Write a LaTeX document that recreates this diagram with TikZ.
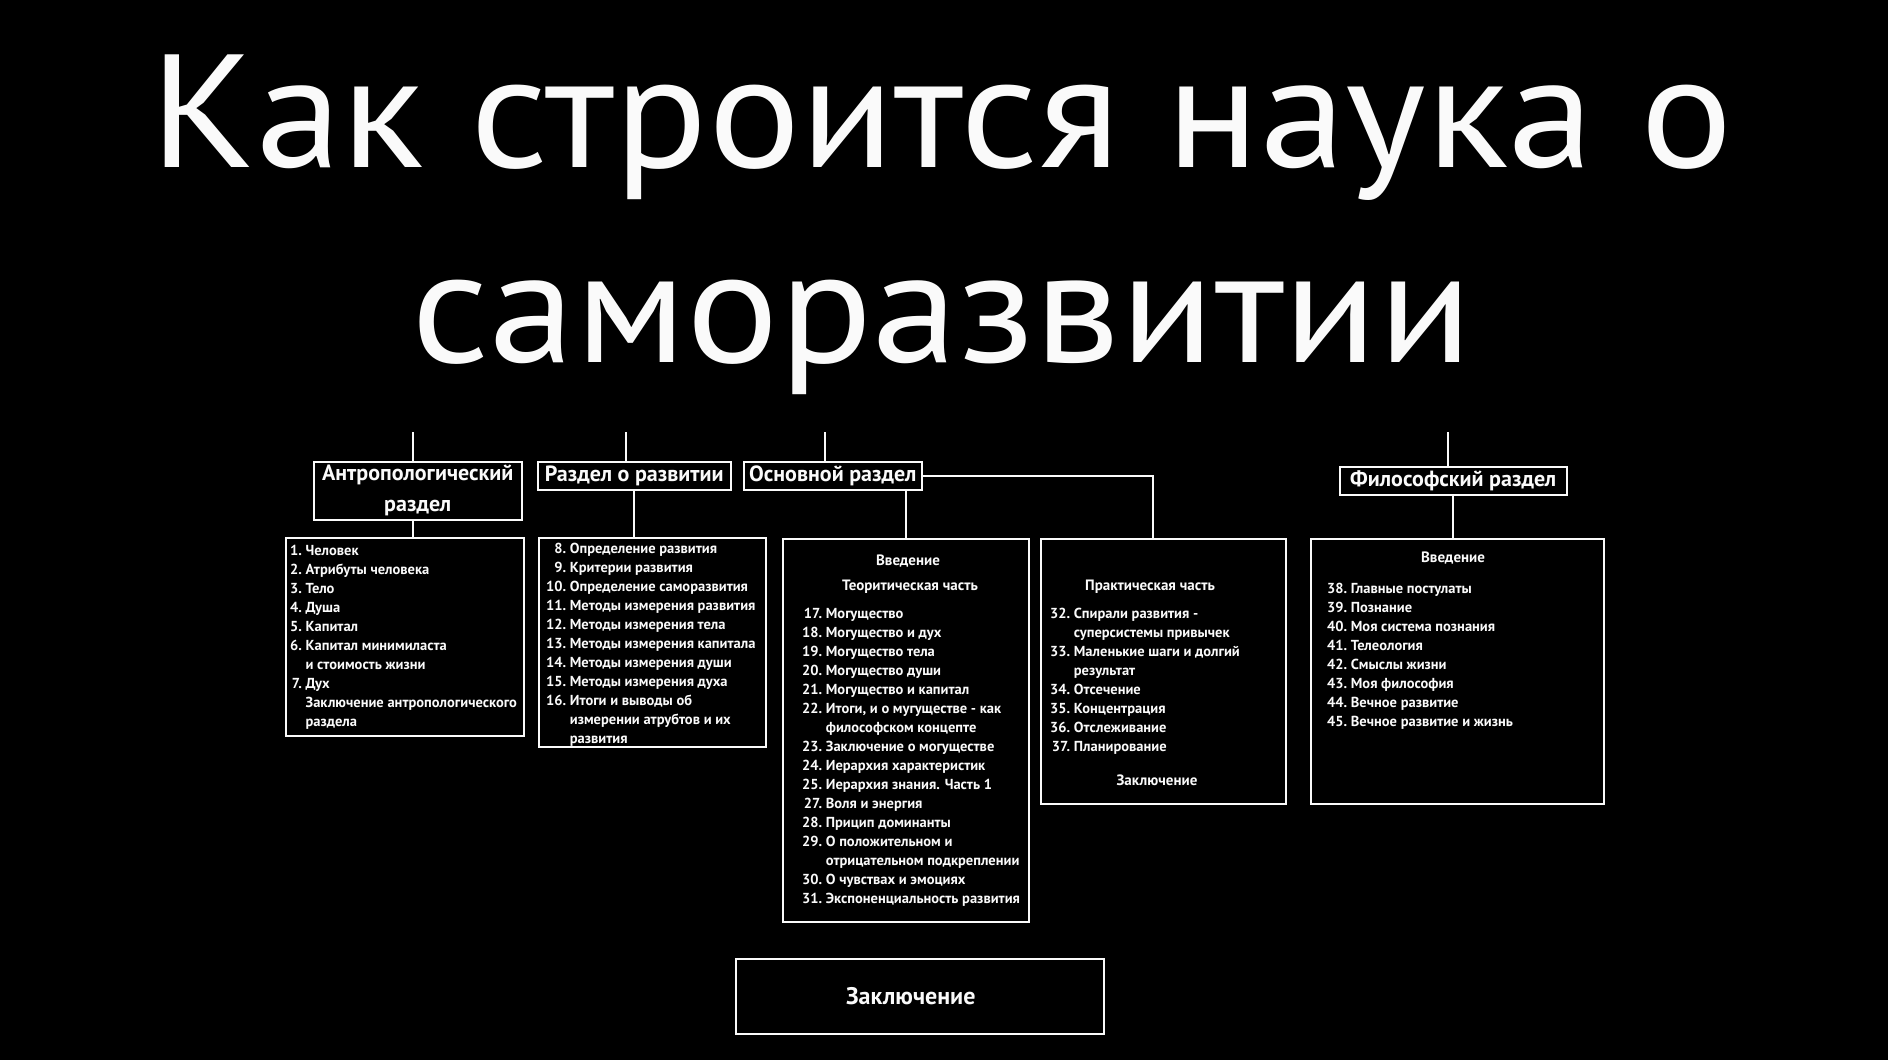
\documentclass[tikz,border=0pt]{standalone}
\usepackage{fontspec}
\setmainfont{PT Sans}
\usetikzlibrary{positioning}
\definecolor{PaperBlack}{RGB}{0,0,0}
\definecolor{ChalkWhite}{RGB}{250,250,250}
\newcommand{\widetitle}[1]{\scalebox{1.073}[1]{#1}}
\tikzset{
  title/.style={text=ChalkWhite,font=\fontsize{161}{161}\selectfont,inner sep=0pt,anchor=base},
  header/.style={draw=ChalkWhite,line width=1.5pt,text=ChalkWhite,anchor=north west,
    font=\fontsize{22}{31}\selectfont\bfseries,align=center,inner sep=0pt},
  listbox/.style={draw=ChalkWhite,line width=1.5pt,inner sep=0pt,anchor=north west},
  listtext/.style={text=ChalkWhite,font=\fontsize{14.5}{19}\selectfont\bfseries,
    anchor=north west,inner sep=0pt,align=left},
  subhead/.style={text=ChalkWhite,font=\fontsize{15}{19}\selectfont\bfseries,
    inner sep=0pt,anchor=base},
  link/.style={ChalkWhite,line width=2.2pt}
}

\begin{document}
\begin{tikzpicture}[x=1pt,y=-1pt]
      \fill[PaperBlack] (0,0) rectangle (1888,1060);
      \useasboundingbox (0,0) rectangle (1888,1060);
      \node[title] (title1) at (942,167) {\widetitle{Как строится наука о}};
      \node[title] (title2) at (942,362) {\widetitle{саморазвитии}};
      % section headers
      \node[header,minimum width=208,minimum height=58] (anthro) at (313,461) {Антропологический\\раздел};
      \node[header,minimum width=193,minimum height=28] (develop) at (537,461) {Раздел о развитии};
      \node[header,minimum width=178,minimum height=28] (core) at (743,461) {Основной раздел};
      \node[header,minimum width=227,minimum height=28] (philos) at (1339,466) {Философский раздел};
      % content boxes
      \node[listbox,minimum width=238,minimum height=198] (anthrolist) at (285,537) {};
      \node[listbox,minimum width=227,minimum height=209] (devlist) at (538,537) {};
      \node[listbox,minimum width=246,minimum height=383] (theory) at (782,538) {};
      \node[listbox,minimum width=245,minimum height=265] (practice) at (1040,538) {};
      \node[listbox,minimum width=293,minimum height=265] (philolist) at (1310,538) {};
      \node[listbox,minimum width=368,minimum height=75,
        font=\fontsize{24}{28}\selectfont\bfseries,text=ChalkWhite] (finale) at (735,958) {Заключение\hspace*{18pt}};
      \node[listtext] (anthroitems) at (290,542) {\begin{tabular}{@{}r@{\ }l@{}}
        1. & Человек\\ 2. & Атрибуты человека\\ 3. & Тело\\ 4. & Душа\\ 5. & Капитал\\
        6. & Капитал минимиласта\\ & и стоимость жизни\\ 7. & Дух\\
        & Заключение антропологического\\ & раздела\end{tabular}};
      \node[listtext] (devitems) at (546,540) {\begin{tabular}{@{}r@{\ }l@{}}
        8. & Определение развития\\ 9. & Критерии развития\\ 10. & Определение саморазвития\\
        11. & Методы измерения развития\\ 12. & Методы измерения тела\\
        13. & Методы измерения капитала\\ 14. & Методы измерения души\\
        15. & Методы измерения духа\\ 16. & Итоги и выводы об\\
        & измерении атрубтов и их\\ & развития\end{tabular}};
      \node[subhead] (theoryintro) at (908,565) {Введение};
      \node[subhead] (theoryhead) at (910,590) {Теоритическая часть};
      \node[listtext] (theoryitems) at (802,605) {\begin{tabular}{@{}r@{\ }l@{}}
        17. & Могущество\\ 18. & Могущество и дух\\ 19. & Могущество тела\\
        20. & Могущество души\\ 21. & Могущество и капитал\\
        22. & Итоги, и о мугуществе - как\\ & философском концепте\\
        23. & Заключение о могуществе\\ 24. & Иерархия характеристик\\
        25. & Иерархия знания. Часть 1\\ 27. & Воля и энергия\\ 28. & Прицип доминанты\\
        29. & О положительном и\\ & отрицательном подкреплении\\
        30. & О чувствах и эмоциях\\ 31. & Экспоненциальность развития\end{tabular}};
      \node[subhead] (practicehead) at (1150,590) {Практическая часть};
      \node[listtext] (practiceitems) at (1050,605) {\begin{tabular}{@{}r@{\ }l@{}}
        32. & Спирали развития -\\ & суперсистемы привычек\\
        33. & Маленькие шаги и долгий\\ & результат\\ 34. & Отсечение\\
        35. & Концентрация\\ 36. & Отслеживание\\ 37. & Планирование\end{tabular}};
      \node[subhead] (practiceend) at (1157,785) {Заключение};
      \node[subhead] (philointro) at (1453,562) {Введение};
      \node[listtext] (philoitems) at (1327,580) {\begin{tabular}{@{}r@{\ }l@{}}
        38. & Главные постулаты\\ 39. & Познание\\ 40. & Моя система познания\\
        41. & Телеология\\ 42. & Смыслы жизни\\ 43. & Моя философия\\
        44. & Вечное развитие\\ 45. & Вечное развитие и жизнь\end{tabular}};
      % connectors
      \coordinate (stub1) at (413,432);
      \coordinate (stub2) at (626,432);
      \coordinate (stub3) at (825,432);
      \coordinate (stub4) at (1448,432);
      \draw[link] (stub1) -- (stub1 |- anthro.north);
      \draw[link] (stub2) -- (stub2 |- develop.north);
      \draw[link] (stub3) -- (stub3 |- core.north);
      \draw[link] (stub4) -- (stub4 |- philos.north);
      \draw[link] (stub1 |- anthro.south) -- (stub1 |- anthrolist.north);
      \draw[link] (develop.south) -- (develop.south |- devlist.north);
      \draw[link] (theory.north |- core.south) -- (theory.north);
      \draw[link] (core.east) -| ([xshift=-10pt]practice.north);
      \draw[link] (philos.south) -- (philos.south |- philolist.north);
    \end{tikzpicture}
\end{document}
